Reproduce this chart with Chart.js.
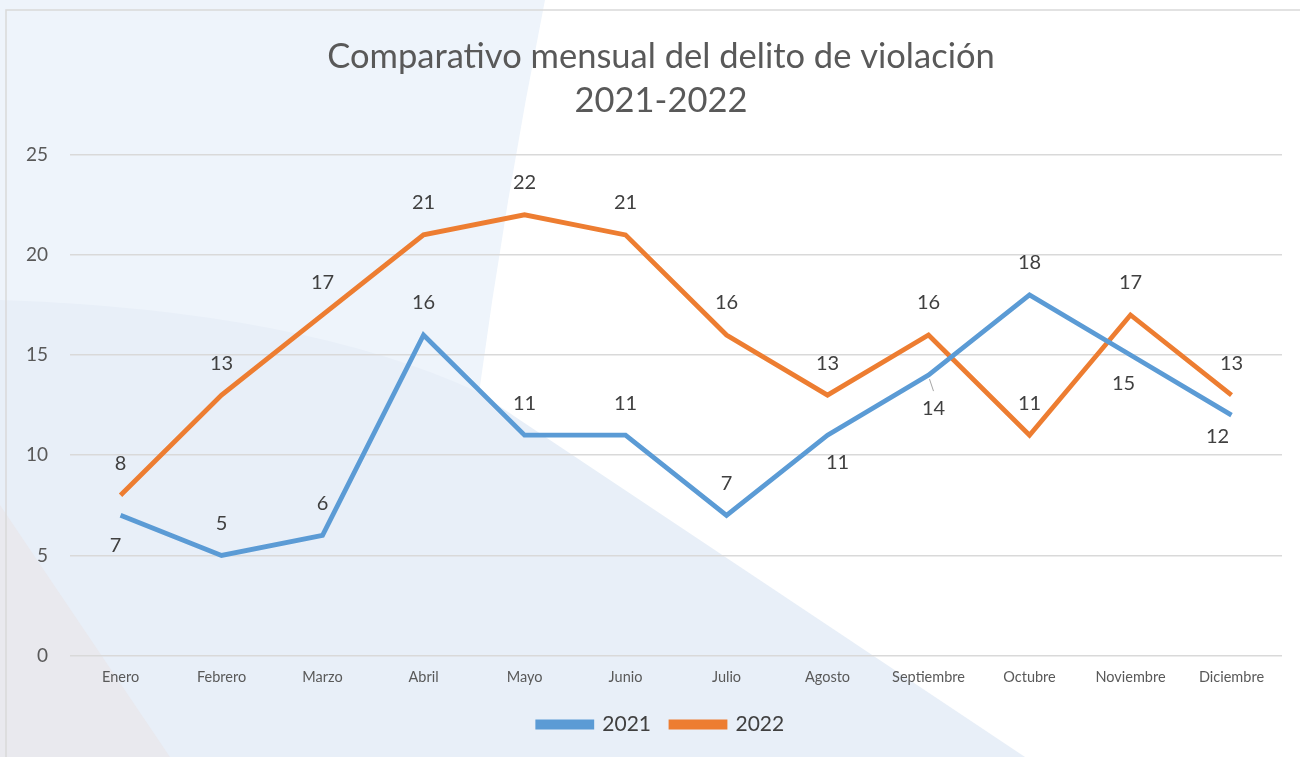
<!DOCTYPE html>
<html>
<head>
<meta charset="utf-8">
<script src="https://cdn.jsdelivr.net/npm/chart.js@4.4.0/dist/chart.umd.min.js"></script>
<style>
  html, body { margin: 0; padding: 0; background: #fff; }
  #wrap { width: 1300px; height: 757px; position: relative; }
</style>
</head>
<body>
<div id="wrap"><canvas id="delitoChart"></canvas></div>
<script>
// Data
const months = ['Enero', 'Febrero', 'Marzo', 'Abril', 'Mayo', 'Junio', 'Julio',
                'Agosto', 'Septiembre', 'Octubre', 'Noviembre', 'Diciembre'];
const values2021 = [7, 5, 6, 16, 11, 11, 7, 11, 14, 18, 15, 12];
const values2022 = [8, 13, 17, 21, 22, 21, 16, 13, 16, 11, 17, 13];
const seriesNames = ['2021', '2022'];
const yTicks = [0, 5, 10, 15, 20, 25];

// Label placement (dx, dy relative to the point), one list per series
const labelOffsets = [
    [[-5, 30], [0, -32], [0, -32], [0, -32], [0, -32], [0, -32], [0, -32],
     [10, 27], [5, 33], [0, -32], [-7, 28], [-14, 21]],
    Array.from({length: 12}, () => [0, -32])
];

const FONT = 'Lato, "Noto Sans", sans-serif';

// Decorative background like the slide behind the chart
const backgroundPlugin = {
    id: 'slideBackground',
    beforeDraw(chart) {
        const c = chart.ctx;
        const w = chart.width, h = chart.height;
        c.save();
        c.fillStyle = '#ffffff';
        c.fillRect(0, 0, w, h);

        // upper-left light blue panel
        c.fillStyle = '#eef4fb';
        c.beginPath();
        c.moveTo(0, 0);
        c.lineTo(545, 0);
        c.quadraticCurveTo(505, 200, 478, 400);
        c.lineTo(0, 400);
        c.closePath();
        c.fill();

        // lower blue-grey sweep
        c.fillStyle = '#e8eff8';
        c.beginPath();
        c.moveTo(0, 300);
        c.quadraticCurveTo(300, 310, 478, 392);
        c.lineTo(1025, h);
        c.lineTo(0, h);
        c.closePath();
        c.fill();

        // lower-left grey triangle
        c.fillStyle = '#e9e9ee';
        c.beginPath();
        c.moveTo(0, 505);
        c.lineTo(170, h);
        c.lineTo(0, h);
        c.closePath();
        c.fill();

        // chart frame
        c.strokeStyle = '#d9d9d9';
        c.lineWidth = 1.5;
        c.beginPath();
        c.moveTo(6, h);
        c.lineTo(6, 10);
        c.lineTo(w, 10);
        c.stroke();
        c.restore();
    }
};

// Title and legend sit a little right of the canvas centre in the original
const shiftPlugin = {
    id: 'shiftBlocks',
    afterLayout(chart) {
        [chart.titleBlock, chart.legend].forEach(b => {
            if (b) { b.left += 18; b.right += 18; }
        });
    }
};

// Value labels next to each point
const valueLabelPlugin = {
    id: 'valueLabels',
    afterDatasetsDraw(chart) {
        const c = chart.ctx;
        c.save();
        c.font = '20px ' + FONT;
        c.fillStyle = '#404040';
        c.textAlign = 'center';
        c.textBaseline = 'middle';
        chart.data.datasets.forEach((ds, di) => {
            const meta = chart.getDatasetMeta(di);
            meta.data.forEach((pt, i) => {
                const off = labelOffsets[di][i];
                c.fillText(String(ds.data[i]), pt.x + off[0], pt.y + off[1]);
            });
        });
        // small leader line for Septiembre 2021
        const p = chart.getDatasetMeta(0).data[8];
        c.strokeStyle = '#a6a6a6';
        c.lineWidth = 1;
        c.beginPath();
        c.moveTo(p.x + 1, p.y + 4);
        c.lineTo(p.x + 5, p.y + 16);
        c.stroke();
        c.restore();
    }
};

const ctx = document.getElementById('delitoChart').getContext('2d');
const delitoChart = new Chart(ctx, {
    type: 'line',
    data: {
        labels: months,
        datasets: [{
            label: seriesNames[0],
            data: values2021,
            borderColor: '#5b9bd5',
            backgroundColor: '#5b9bd5',
            borderWidth: 4.8,
            pointRadius: 0,
            tension: 0
        }, {
            label: seriesNames[1],
            data: values2022,
            borderColor: '#ed7d31',
            backgroundColor: '#ed7d31',
            borderWidth: 4.8,
            pointRadius: 0,
            tension: 0
        }]
    },
    options: {
        responsive: true,
        maintainAspectRatio: false,
        animation: false,
        layout: {
            padding: { top: 12, right: 18, bottom: 12, left: 4 }
        },
        plugins: {
            title: {
                display: true,
                text: ['Comparativo mensual del delito de violación', '2021-2022'],
                color: '#595959',
                font: { family: FONT, size: 34.5, weight: 'normal', lineHeight: 1.3 },
                padding: { top: 22, bottom: 31 }
            },
            legend: {
                position: 'bottom',
                labels: {
                    color: '#404040',
                    font: { family: FONT, size: 21 },
                    boxWidth: 54,
                    boxHeight: 5,
                    padding: 20
                }
            },
            tooltip: { enabled: false }
        },
        scales: {
            x: {
                offset: true,
                grid: { display: false },
                border: { display: false },
                afterFit(axis) { axis.height += 3; },
                ticks: {
                    color: '#595959',
                    font: { family: FONT, size: 14.5 },
                    maxRotation: 0,
                    padding: 5
                }
            },
            y: {
                min: 0,
                max: 25,
                afterBuildTicks(axis) {
                    axis.ticks = yTicks.map(v => ({ value: v }));
                },
                grid: { color: '#d9d9d9', lineWidth: 1.5, drawTicks: false },
                border: { display: false },
                ticks: {
                    color: '#595959',
                    font: { family: FONT, size: 19 },
                    padding: 22
                }
            }
        }
    },
    plugins: [backgroundPlugin, shiftPlugin, valueLabelPlugin]
});
</script>
</body>
</html>
